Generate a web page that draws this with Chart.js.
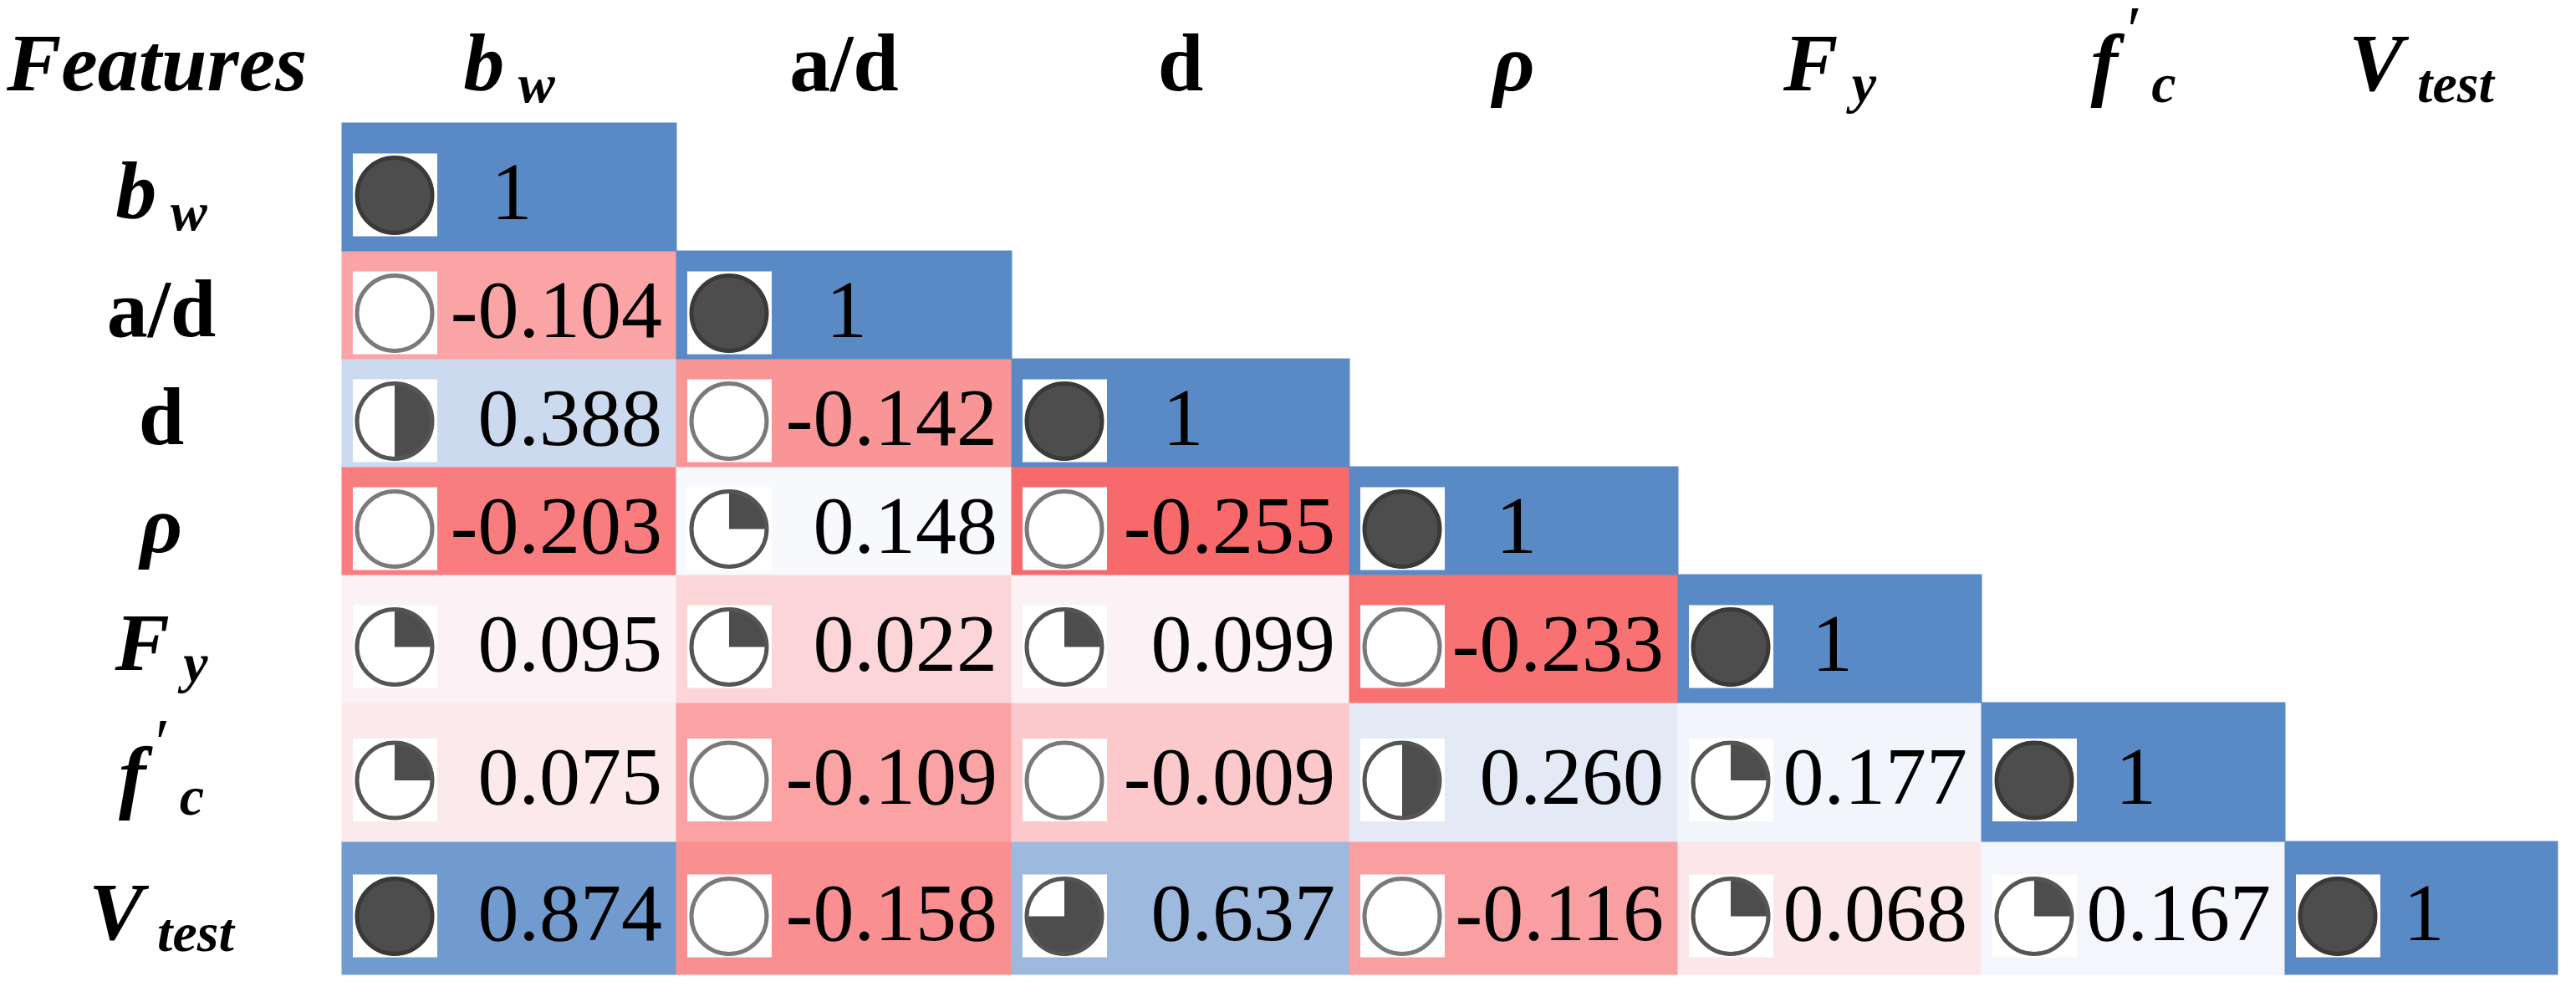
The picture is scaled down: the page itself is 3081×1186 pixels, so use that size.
<!DOCTYPE html>
<html>
<head>
<meta charset="utf-8">
<script src="https://cdn.jsdelivr.net/npm/chart.js@4.4.1/dist/chart.umd.min.js"></script>
<style>
    html, body { margin: 0; padding: 0; background: #fff; overflow: hidden; }
    canvas { display: block; }
</style>
</head>
<body>
<canvas id="corrChart" width="3081" height="1186"></canvas>
<script>
// Feature names (main glyph + subscript)
const features = ["b_w", "a/d", "d", "ρ", "F_y", "f'_c", "V_test"];
const labelMain = ["b", "a/d", "d", "ρ", "F", "f", "V"];
const labelSub = ["w", "", "", "", "y", "c", "test"];
const labelPrime = [false, false, false, false, false, true, false];
const labelItalic = [true, false, false, true, true, true, true];

// Lower triangle of the correlation matrix, one array per row
const rowBw = [1];
const rowAd = [-0.104, 1];
const rowD = [0.388, -0.142, 1];
const rowRho = [-0.203, 0.148, -0.255, 1];
const rowFy = [0.095, 0.022, 0.099, -0.233, 1];
const rowFc = [0.075, -0.109, -0.009, 0.260, 0.177, 1];
const rowVtest = [0.874, -0.158, 0.637, -0.116, 0.068, 0.167, 1];
const corr = [rowBw, rowAd, rowD, rowRho, rowFy, rowFc, rowVtest];

// Layout (pixels, 1 scale unit = 1 px)
const W = 3081, H = 1186;
const gridLeft = 409, gridTop = 147;
const colWidths = [400, 401, 404, 393, 363, 363, 326];
const rowHeights = [153, 129, 129, 129, 153, 166, 159];

const colEdges = [gridLeft];
colWidths.forEach(w => colEdges.push(colEdges[colEdges.length - 1] + w));
const rowEdges = [gridTop];
rowHeights.forEach(h => rowEdges.push(rowEdges[rowEdges.length - 1] + h));
const rowMid = rowHeights.map((h, i) => rowEdges[i] + h / 2);

// Excel style 3-colour scale: min red, 50th percentile white, max blue
const allVals = corr.flat();
const sorted = [...allVals].sort((a, b) => a - b);
const vMin = sorted[0], vMax = sorted[sorted.length - 1];
const pos = 0.5 * (sorted.length - 1);
const vMid = sorted[Math.floor(pos)] + (sorted[Math.ceil(pos)] - sorted[Math.floor(pos)]) * (pos - Math.floor(pos));
const RED = [248, 105, 107], WHITE = [252, 252, 255], BLUE = [90, 138, 198];

function mix(a, b, t) {
    return "rgb(" + a.map((c, k) => Math.round(c + (b[k] - c) * t)).join(",") + ")";
}
function cellColor(v) {
    if (v <= vMid) return mix(WHITE, RED, (vMid - v) / (vMid - vMin));
    return mix(WHITE, BLUE, (v - vMid) / (vMax - vMid));
}

// Icon set: quarters by percent of range
function quarters(v) {
    const p = (v - vMin) / (vMax - vMin);
    if (p >= 0.8) return 4;
    if (p >= 0.6) return 3;
    if (p >= 0.4) return 2;
    if (p >= 0.2) return 1;
    return 0;
}

function drawBall(ctx, cx, cy, v) {
    const r = 47, q = quarters(v);
    ctx.fillStyle = "#fff";
    ctx.fillRect(cx - 50, cy - 50, 101, 99);
    ctx.beginPath();
    ctx.arc(cx, cy, r, 0, Math.PI * 2);
    ctx.fillStyle = q === 4 ? "#4d4d4d" : "#fff";
    ctx.fill();
    if (q > 0 && q < 4) {
        ctx.beginPath();
        ctx.moveTo(cx, cy);
        ctx.arc(cx, cy, r, -Math.PI / 2, -Math.PI / 2 + q * Math.PI / 2);
        ctx.closePath();
        ctx.fillStyle = "#4d4d4d";
        ctx.fill();
    }
    ctx.beginPath();
    ctx.arc(cx, cy, r - 2, 0, Math.PI * 2);
    ctx.lineWidth = 5;
    ctx.strokeStyle = q === 4 ? "#3a3a3a" : (q === 0 ? "#7a7a7a" : "#555");
    ctx.stroke();
}

const SERIF = '"Liberation Serif", "Times New Roman", serif';

function drawLabel(ctx, i, cx, baseline) {
    const mainFont = (labelItalic[i] ? "italic " : "") + "bold 98px " + SERIF;
    const subFont = "italic bold 66px " + SERIF;
    const primeFont = "italic 80px " + SERIF;
    const sub = labelSub[i] ? " " + labelSub[i] : "";
    ctx.font = mainFont;
    const wMain = ctx.measureText(labelMain[i]).width;
    ctx.font = primeFont;
    const wPrime = labelPrime[i] ? ctx.measureText("′").width + 6 : 0;
    ctx.font = subFont;
    const wSub = sub ? ctx.measureText(sub).width : 0;
    let x = cx - (wMain + wPrime + wSub) / 2;
    ctx.fillStyle = "#000";
    ctx.textAlign = "left";
    ctx.textBaseline = "alphabetic";
    ctx.font = mainFont;
    ctx.fillText(labelMain[i], x, baseline);
    x += wMain;
    if (labelPrime[i]) {
        ctx.font = primeFont;
        ctx.fillText("′", x + 6, baseline - 45);
        x += wPrime;
    }
    if (sub) {
        ctx.font = subFont;
        ctx.fillText(sub, x, baseline + 14);
    }
}

const cellPlugin = {
    id: "cellPlugin",
    afterDatasetsDraw(chart) {
        const ctx = chart.ctx;
        const xs = chart.scales.x, ys = chart.scales.y;
        ctx.save();
        chart.data.datasets.forEach((ds, i) => {
            const meta = chart.getDatasetMeta(i);
            meta.data.forEach((bar, j) => {
                const p = bar.getProps(["x", "y", "base"], true);
                const left = Math.min(p.x, p.base), right = Math.max(p.x, p.base);
                const v = ds.data[j].v;
                drawBall(ctx, left + 63, p.y + 10, v);
                ctx.fillStyle = "#000";
                ctx.font = "98px " + SERIF;
                ctx.textBaseline = "alphabetic";
                if (v === 1) {
                    ctx.textAlign = "center";
                    ctx.fillText("1", (left + right) / 2 + 3, p.y + 38);
                } else {
                    ctx.textAlign = "right";
                    ctx.fillText(v.toFixed(3), right - 17, p.y + 38);
                }
            });
        });

        // header row and first column
        ctx.fillStyle = "#000";
        ctx.textAlign = "left";
        ctx.font = "italic bold 98px " + SERIF;
        ctx.fillText("Features", 8, 108);
        features.forEach((f, k) => {
            const cx = xs.getPixelForValue((colEdges[k] + colEdges[k + 1]) / 2);
            drawLabel(ctx, k, cx, 108);
            drawLabel(ctx, k, 193, ys.getPixelForValue(rowMid[k]) + 37);
        });
        ctx.restore();
    }
};

const datasets = corr.map((row, i) => ({
    label: features[i],
    data: row.map((v, j) => ({ x: [colEdges[j], colEdges[j + 1]], y: rowMid[i], v: v })),
    backgroundColor: row.map(cellColor),
    borderWidth: 0,
    barThickness: rowHeights[i],
    grouped: false,
    inflateAmount: 0.5
}));

new Chart(document.getElementById("corrChart"), {
    type: "bar",
    data: { datasets: datasets },
    options: {
        indexAxis: "y",
        responsive: false,
        animation: false,
        devicePixelRatio: 1,
        layout: { padding: 0 },
        plugins: { legend: { display: false }, tooltip: { enabled: false } },
        scales: {
            x: { type: "linear", min: 0, max: W, offset: false, display: false },
            y: { type: "linear", min: 0, max: H, reverse: true, offset: false, display: false }
        }
    },
    plugins: [cellPlugin]
});
</script>
</body>
</html>
